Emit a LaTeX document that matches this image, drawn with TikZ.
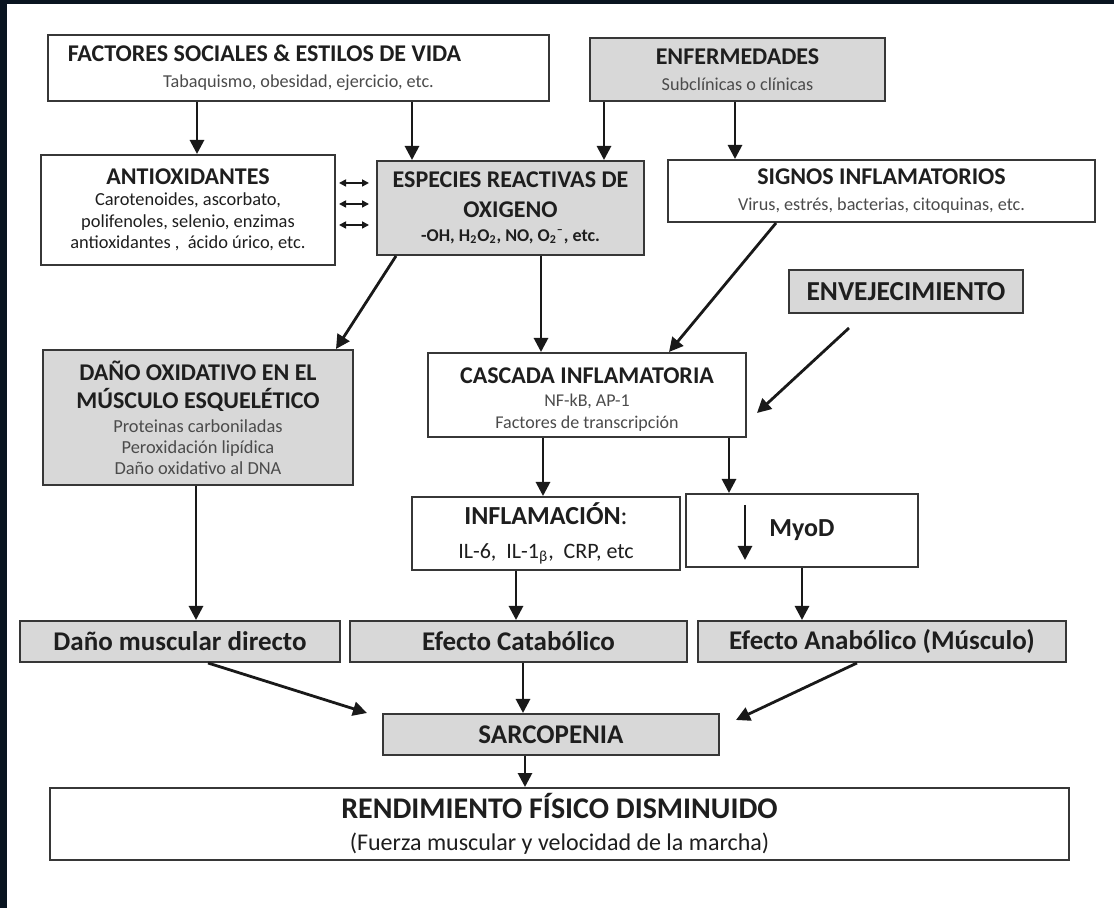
\documentclass[tikz,border=0pt]{standalone}
\usepackage{fontspec}
\setmainfont{Carlito}
\usetikzlibrary{arrows.meta}
\definecolor{boxgray}{RGB}{216,216,216}
\definecolor{edge}{RGB}{55,55,55}
\definecolor{navy}{RGB}{9,20,32}
\definecolor{notegray}{RGB}{75,75,75}
\definecolor{ink}{RGB}{30,30,30}
\newcommand{\boxhead}[1]{{\fontsize{12}{14}\selectfont\bfseries #1}}
\newcommand{\boxnote}[1]{{\fontsize{9.1}{10}\selectfont\color{notegray}#1}}
\begin{document}
\begin{tikzpicture}[x=0.5pt, y=-0.5pt,
    box/.style={draw=edge, line width=1pt, fill=white, align=center, inner sep=0pt, text=ink},
    shaded/.style={box, fill=boxgray},
    >={Triangle[length=7pt, width=7pt]},
    flow/.style={->, line width=1.4pt, draw=black!90},
    both/.style={<->, >={Triangle[length=3.5pt, width=3.5pt]}, line width=0.8pt, draw=black!90}]

  % page and dark frame
  \fill[white] (0,0) rectangle (1114,908);
  \fill[navy] (0,0) rectangle (7,908);
  \fill[navy] (0,0) rectangle (1114,4);
  \useasboundingbox (0,0) rectangle (1114,908);

  % top row
  \node[box, minimum width=250.5pt, minimum height=33pt, font=\fontsize{9}{13}\selectfont] (Factores) at (298.5,68)
    {\boxhead{FACTORES SOCIALES \& ESTILOS DE VIDA}\hspace*{34pt}\\ \boxnote{Tabaquismo, obesidad, ejercicio, etc.}};
  \node[shaded, minimum width=147.5pt, minimum height=31.5pt, font=\fontsize{9}{13}\selectfont] (Enferm) at (737.5,69.5)
    {\boxhead{ENFERMEDADES}\\ \boxnote{Subclínicas o clínicas}};

  % second row
  \node[box, minimum width=147pt, minimum height=55pt, font=\fontsize{9.2}{10.75}\selectfont] (Antiox) at (188,210)
    {\boxhead{ANTIOXIDANTES}\\ Carotenoides, ascorbato,\\ polifenoles, selenio, enzimas\\ antioxidantes ,\ \ ácido úrico, etc.};
  \node[shaded, minimum width=133.5pt, minimum height=47pt, font=\fontsize{9}{11.75}\selectfont] (ERO) at (510.5,208)
    {\boxhead{ESPECIES REACTIVAS DE}\\[3.25pt] \boxhead{OXIGENO}\\ \textbf{-OH, H\textsubscript{2}O\textsubscript{2}, NO, O\textsubscript{2}\textsuperscript{--}, etc.}};
  \node[box, minimum width=213.5pt, minimum height=31pt, font=\fontsize{9}{13}\selectfont] (Signos) at (881.5,191)
    {\boxhead{SIGNOS INFLAMATORIOS}\\ \boxnote{Virus, estrés, bacterias, citoquinas, etc.}};
  \node[shaded, minimum width=117pt, minimum height=21.5pt, font=\fontsize{13.7}{15}\selectfont\bfseries] (Envej) at (906,291.5)
    {ENVEJECIMIENTO};

  % middle
  \node[shaded, minimum width=155pt, minimum height=67.5pt, font=\fontsize{9.2}{10.3}\selectfont] (DanoOx) at (198,417.5)
    {\boxhead{DAÑO OXIDATIVO EN EL}\\[3.7pt] \boxhead{MÚSCULO ESQUELÉTICO}\\[2pt] \color{notegray}Proteinas carboniladas\\ \color{notegray}Peroxidación lipídica\\ \color{notegray}Daño oxidativo al DNA};
  \node[box, minimum width=159pt, minimum height=42pt, font=\fontsize{9}{11.2}\selectfont] (Cascada) at (587,395)
    {\rule{0pt}{12.5pt}\boxhead{CASCADA INFLAMATORIA}\\[0.5pt] \color{notegray}NF-kB, AP-1\\ \color{notegray}Factores de transcripción};
  \node[box, minimum width=134pt, minimum height=36.5pt, font=\fontsize{11}{17}\selectfont] (Inflam) at (546,533.5)
    {{\fontsize{13}{15}\selectfont\bfseries INFLAMACIÓN}{\fontsize{13}{15}\selectfont:}\\ IL-6,\ \ IL-1\textsubscript{β},\ \ CRP, etc};
  \node[box, minimum width=116pt, minimum height=36.5pt, font=\fontsize{13}{15}\selectfont\bfseries] (MyoD) at (802,530.5)
    {MyoD};

  % effects
  \node[shaded, minimum width=160pt, minimum height=20.5pt, font=\fontsize{13.5}{15}\selectfont\bfseries] (DanoDir) at (180,641.5)
    {Daño muscular directo};
  \node[shaded, minimum width=168.5pt, minimum height=20.5pt, font=\fontsize{13.5}{15}\selectfont\bfseries] (Catab) at (518.5,641.5)
    {Efecto Catabólico};
  \node[shaded, minimum width=184pt, minimum height=20.5pt, font=\fontsize{13.5}{15}\selectfont\bfseries] (Anab) at (882,641.5)
    {Efecto Anabólico (Músculo)};
  \node[shaded, minimum width=168pt, minimum height=20.5pt, font=\fontsize{13.5}{15}\selectfont\bfseries] (Sarc) at (551,734.5)
    {SARCOPENIA};
  \node[box, minimum width=509.5pt, minimum height=36pt, font=\fontsize{12}{16}\selectfont] (Rend) at (559.5,824)
    {{\fontsize{15}{17}\selectfont\bfseries RENDIMIENTO FÍSICO DISMINUIDO}\\ (Fuerza muscular y velocidad de la marcha)};

  % arrows
  \draw[flow] ([xshift=-50.75pt]Factores.south) -- ([xshift=4.5pt]Antiox.north);
  \draw[flow] ([xshift=56.75pt]Factores.south) -- ([xshift=-49.25pt]ERO.north);
  \draw[flow] ([xshift=-66.75pt]Enferm.south) -- ([xshift=46.75pt]ERO.north);
  \draw[flow] ([xshift=-1.25pt]Enferm.south) -- ([xshift=-73.25pt]Signos.north);
  \foreach \a/\b in {13.5/12.5, 3/2, -7.5/-8.5}
    \draw[both, shorten <=1.5pt, shorten >=3.5pt] ([yshift=\a pt]Antiox.east) -- ([yshift=\b pt]ERO.west);
  \draw[flow] ([xshift=-57.25pt]ERO.south) -- ([xshift=69pt]DanoOx.north);
  \draw[flow] ([xshift=15.25pt]ERO.south) -- ([xshift=-23pt]Cascada.north);
  \draw[flow] ([xshift=-52.75pt]Signos.south) -- ([xshift=41pt]Cascada.north);
  \draw[flow] ([xshift=-28.5pt, yshift=-7pt]Envej.south) -- ([xshift=5pt, yshift=-9pt]Cascada.east);
  \draw[flow] ([xshift=-22pt]Cascada.south) -- ([xshift=-1.5pt]Inflam.north);
  \draw[flow] ([xshift=71pt]Cascada.south) -- ([xshift=-36.5pt]MyoD.north);
  \draw[flow] ([xshift=-28.5pt, yshift=12.75pt]MyoD.center) -- ([xshift=-28.5pt, yshift=-14.75pt]MyoD.center);
  \draw[flow] ([xshift=-1pt]DanoOx.south) -- ([xshift=8pt]DanoDir.north);
  \draw[flow] ([xshift=-15pt]Inflam.south) -- ([xshift=-1.25pt]Catab.north);
  \draw[flow] (MyoD.south) -- ([xshift=-40pt]Anab.north);
  \draw[flow] ([xshift=14pt]DanoDir.south) -- ([xshift=-7.5pt]Sarc.north west);
  \draw[flow] ([xshift=2.25pt]Catab.south) -- ([xshift=-14pt]Sarc.north);
  \draw[flow] ([xshift=-12.5pt]Anab.south) -- ([xshift=8pt, yshift=-3.5pt]Sarc.north east);
  \draw[flow] ([xshift=-13pt]Sarc.south) -- ([xshift=-17.25pt]Rend.north);
\end{tikzpicture}
\end{document}
